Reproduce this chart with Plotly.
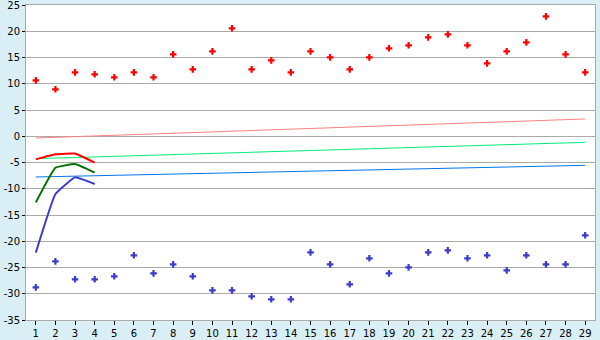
import plotly.graph_objects as go

cats = list(range(1, 30))
y_ticks = [25, 20, 15, 10, 5, 0, -5, -10, -15, -20, -25, -30, -35]
red_pts = [10.65, 8.94, 12.17, 11.8, 11.23, 12.17, 11.23, 15.6, 12.74, 16.17,
           20.56, 12.74, 14.46, 12.17, 16.17, 15.03, 12.74, 15.03, 16.75, 17.32,
           18.84, 19.41, 17.32, 13.89, 16.17, 17.89, 22.84, 15.6, 12.17]
blue_pts = [-28.78, -23.83, -27.25, -27.25, -26.68, -22.68, -26.11, -24.4, -26.68, -29.35,
            -29.35, -30.49, -31.06, -31.06, -22.11, -24.4, -28.2, -23.25, -26.11, -24.97,
            -22.11, -21.73, -23.25, -22.68, -25.54, -22.68, -24.4, -24.4, -18.87]
short_x = [1, 2, 3, 4]
red_line = [-4.4, -3.45, -3.3, -5.03]
green_line = [-12.6, -6.0, -5.3, -6.93]
blue_line = [-22.17, -11.0, -7.83, -9.1]
trend_x = [1, 29]
trend_red = [-0.33, 3.29]
trend_green = [-4.27, -1.16]
trend_blue = [-7.76, -5.54]

fig = go.Figure()
fig.add_trace(go.Scatter(x=trend_x, y=trend_red, mode="lines", line=dict(color="#ff8080", width=1)))
fig.add_trace(go.Scatter(x=trend_x, y=trend_green, mode="lines", line=dict(color="#00ee77", width=1)))
fig.add_trace(go.Scatter(x=trend_x, y=trend_blue, mode="lines", line=dict(color="#0077ee", width=1)))
fig.add_trace(go.Scatter(x=short_x, y=red_line, mode="lines", line=dict(color="#ff0000", width=2, shape="spline", smoothing=0.3)))
fig.add_trace(go.Scatter(x=short_x, y=green_line, mode="lines", line=dict(color="#007000", width=2, shape="spline", smoothing=0.3)))
fig.add_trace(go.Scatter(x=short_x, y=blue_line, mode="lines", line=dict(color="#3c3ccc", width=2, shape="spline", smoothing=0.3)))
fig.add_trace(go.Scatter(x=cats, y=red_pts, mode="markers",
                         marker=dict(symbol="cross", size=5.5, color="#ff0000", line=dict(width=0))))
fig.add_trace(go.Scatter(x=cats, y=blue_pts, mode="markers",
                         marker=dict(symbol="cross", size=5.5, color="#3c3ccc", line=dict(width=0))))

fig.update_layout(
    width=600, height=340,
    margin=dict(l=26, r=5, t=5, b=20),
    paper_bgcolor="#daeff5",
    plot_bgcolor="#ffffff",
    showlegend=False,
    font=dict(family="DejaVu Sans", size=10, color="#000000"),
    xaxis=dict(range=[0.5, 29.5], tickmode="array", tickvals=cats, ticktext=[str(c) for c in cats],
               showgrid=False, zeroline=False, ticks="outside", ticklen=4, tickcolor="#000000",
               showline=True, linecolor="#aaaaaa", mirror=True, linewidth=1, tickfont=dict(size=10),
               automargin=False, ticklabeloverflow="allow"),
    yaxis=dict(range=[-35, 25], tickmode="array", tickvals=y_ticks, ticktext=[str(v) for v in y_ticks],
               showgrid=True, gridcolor="#aaaaaa", gridwidth=1,
               zeroline=False, ticks="outside", ticklen=3, tickcolor="#000000",
               showline=True, linecolor="#aaaaaa", mirror=True, linewidth=1, tickfont=dict(size=10),
               automargin=False, ticklabeloverflow="allow"),
)
fig.write_html("out.html")
